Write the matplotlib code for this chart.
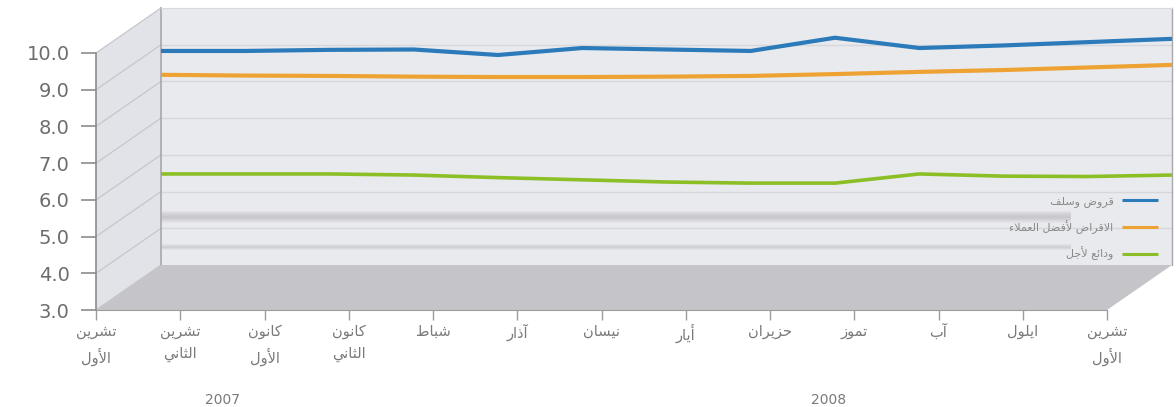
import matplotlib
matplotlib.use("Agg")
import matplotlib.pyplot as plt
from matplotlib.patches import Polygon
import numpy as np

# months Oct 2007 .. Oct 2008 (Arabic, two-line where needed)
months = ["تشرين\nالأول", "تشرين\nالثاني", "كانون\nالأول", "كانون\nالثاني", "شباط", "آذار",
          "نيسان", "أيار", "حزيران", "تموز", "آب", "ايلول", "تشرين\nالأول"]
years = ["2007", "2008"]
year_pos = [1.5, 8.7]

# interest rates (%)
loans = [8.83, 8.83, 8.86, 8.87, 8.72, 8.91, 8.87, 8.83, 9.19, 8.91, 8.98, 9.07, 9.16]
prime = [8.18, 8.16, 8.15, 8.13, 8.12, 8.12, 8.13, 8.15, 8.20, 8.26, 8.31, 8.38, 8.45]
deposits = [5.48, 5.48, 5.48, 5.45, 5.38, 5.32, 5.26, 5.23, 5.23, 5.48, 5.42, 5.41, 5.45]

series_names = ["قروض وسلف", "الاقراض لأفضل العملاء", "ودائع لأجل"]
colors = ["#2b7bba", "#eea233", "#8cbf26"]

yticks = [3.0, 4.0, 5.0, 6.0, 7.0, 8.0, 9.0, 10.0]

# --- tiny arabic shaper (matplotlib has no complex text layout) ---
DUAL = {'ئ': 0xFE89, 'ب': 0xFE8F, 'ت': 0xFE95, 'ث': 0xFE99, 'ج': 0xFE9D, 'ح': 0xFEA1,
        'خ': 0xFEA5, 'س': 0xFEB1, 'ش': 0xFEB5, 'ص': 0xFEB9, 'ض': 0xFEBD, 'ط': 0xFEC1,
        'ظ': 0xFEC5, 'ع': 0xFEC9, 'غ': 0xFECD, 'ف': 0xFED1, 'ق': 0xFED5, 'ك': 0xFED9,
        'ل': 0xFEDD, 'م': 0xFEE1, 'ن': 0xFEE5, 'ه': 0xFEE9, 'ي': 0xFEF1}
RIGHT = {'آ': 0xFE81, 'أ': 0xFE83, 'ؤ': 0xFE85, 'إ': 0xFE87, 'ا': 0xFE8D, 'ة': 0xFE93,
         'د': 0xFEA9, 'ذ': 0xFEAB, 'ر': 0xFEAD, 'ز': 0xFEAF, 'و': 0xFEED, 'ى': 0xFEEF}
ISO = {'ء': 0xFE80}
LAM_ALEF = {'آ': 0xFEF5, 'أ': 0xFEF7, 'إ': 0xFEF9, 'ا': 0xFEFB}


def shape_line(text):
    units = []
    i = 0
    while i < len(text):
        if text[i] == 'ل' and i + 1 < len(text) and text[i + 1] in LAM_ALEF:
            units.append(('LA', LAM_ALEF[text[i + 1]]))
            i += 2
        else:
            units.append((text[i], None))
            i += 1
    out = []
    for k, (c, code) in enumerate(units):
        prev = units[k - 1][0] if k > 0 else None
        nxt = units[k + 1][0] if k + 1 < len(units) else None
        right_ok = c in DUAL or c in RIGHT or c == 'LA'
        p = prev in DUAL and right_ok
        n = c in DUAL and nxt is not None and (nxt in DUAL or nxt in RIGHT or nxt == 'LA')
        if c == 'LA':
            out.append(chr(code + (1 if p else 0)))
        elif c in DUAL:
            out.append(chr(DUAL[c] + (3 if p and n else 1 if p else 2 if n else 0)))
        elif c in RIGHT:
            out.append(chr(RIGHT[c] + (1 if p else 0)))
        elif c in ISO:
            out.append(chr(ISO[c]))
        else:
            out.append(c)
    return ''.join(reversed(out))


def shape(text):
    return "\n".join(shape_line(t) for t in text.split("\n"))


W, H = 1176, 407
fig = plt.figure(figsize=(W / 100, H / 100), dpi=100)
# front plane of the 3d box
ax = fig.add_axes([96 / W, 97 / H, 1011 / W, 257 / H])
ax.set_xlim(0, 12)
ax.set_ylim(3, 10)
ax.patch.set_visible(False)

# depth offset of back wall (65 px right, 45 px up) in data units
DX = 65 / (1011 / 12)
DY = 45 / (257 / 7)

wall_c = "#e9eaee"
side_c = "#e2e3e8"
floor_c = "#c5c5c9"
edge_c = "#a9a9ad"

ax.add_patch(Polygon([(DX, 3 + DY), (12 + DX, 3 + DY), (12 + DX, 10 + DY), (DX, 10 + DY)],
                     closed=True, fc=wall_c, ec="none", clip_on=False, zorder=0))
ax.add_patch(Polygon([(0, 3), (DX, 3 + DY), (DX, 10 + DY), (0, 10)],
                     closed=True, fc=side_c, ec="none", clip_on=False, zorder=0))
ax.add_patch(Polygon([(0, 3), (12, 3), (12 + DX, 3 + DY), (DX, 3 + DY)],
                     closed=True, fc=floor_c, ec="none", clip_on=False, zorder=1))

# gridlines on back wall and side wall
for v in yticks:
    if 3 < v < 10:
        ax.plot([DX, 12 + DX], [v + DY, v + DY], color="#d6d7db", lw=1.0, clip_on=False, zorder=0.5)
    ax.plot([0, DX], [v, v + DY], color="#c6c7cc", lw=0.9, clip_on=False, zorder=0.5)

# soft grey smudges seen on the wall
for yc, hh, a in [(4.31, 0.17, 0.07), (3.49, 0.09, 0.05)]:
    for s in np.linspace(1.0, 0.15, 7):
        ax.fill_between([DX, 10.8 + DX], yc + DY - hh * s, yc + DY + hh * s,
                        color="#9d9da2", alpha=a, lw=0, clip_on=False, zorder=0.6)

ax.plot([DX, DX], [3 + DY, 10 + DY], color=edge_c, lw=1.2, clip_on=False, zorder=0.7)
ax.plot([12 + DX, 12 + DX], [3 + DY, 10 + DY], color=edge_c, lw=1.0, clip_on=False, zorder=0.7)
ax.plot([DX, 12 + DX], [10 + DY, 10 + DY], color="#d9d9dd", lw=0.8, clip_on=False, zorder=0.7)

x = np.arange(len(months))
handles = []
for vals, c, w in zip([loans, prime, deposits], colors, [3.0, 3.0, 2.6]):
    ln, = ax.plot(x + DX, np.array(vals) + DY, color=c, lw=w, clip_on=False, zorder=3,
                  solid_capstyle="butt")
    handles.append(ln)

leg = ax.legend(handles, [shape(s) for s in series_names], loc="upper right",
                bbox_to_anchor=(1168 / W, (H - 186) / H), bbox_transform=fig.transFigure,
                frameon=False, markerfirst=False, handlelength=3.2,
                labelspacing=1.15, handletextpad=0.8, prop={"family": "DejaVu Sans", "size": 8})
for t in leg.get_texts():
    t.set_color("#8a8a8a")
for lh in leg.get_lines():
    lh.set_linewidth(2.2)

# axes styling
for s in ["top", "right"]:
    ax.spines[s].set_visible(False)
ax.spines["left"].set_color("#8c8c8c")
ax.spines["bottom"].set_color("#9c9c9c")
ax.spines["left"].set_linewidth(1.2)

ax.set_yticks(yticks)
ax.set_yticklabels([f"{v:.1f}" for v in yticks])
ax.tick_params(axis="y", length=11, width=1.2, color="#8c8c8c", pad=8,
               labelsize=14, labelcolor="#6d6d6d")
ax.set_xticks(x)
ax.set_xticklabels([shape(m) for m in months], linespacing=1.6)
ax.tick_params(axis="x", length=7, width=1.0, color="#9c9c9c", pad=3,
               labelsize=10.5, labelcolor="#7a7a7a")
for lab in ax.get_xticklabels():
    lab.set_multialignment("center")

for yr, xp in zip(years, year_pos):
    ax.text(xp, -0.35, yr, transform=ax.get_xaxis_transform(), ha="center", va="center",
            fontsize=10, color="#7a7a7a")

fig.savefig("out.png", dpi=100)
